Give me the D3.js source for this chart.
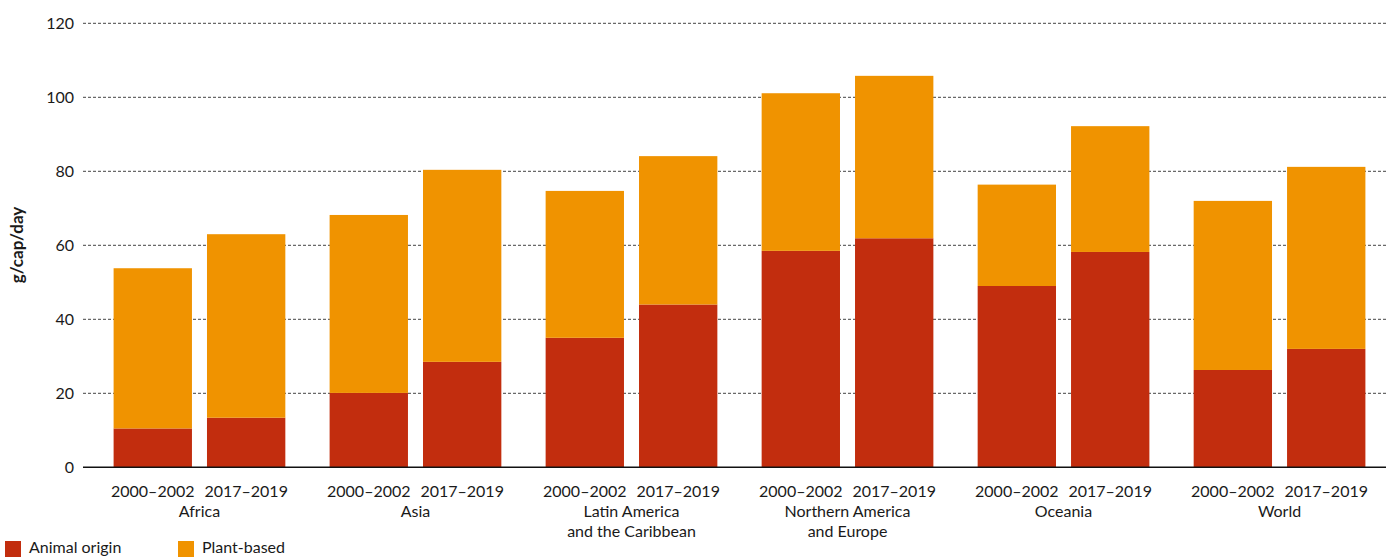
<!DOCTYPE html>
<html>
<head>
<meta charset="utf-8">
<script src="https://cdn.jsdelivr.net/npm/d3@7"></script>
<style>
  html, body { margin: 0; padding: 0; background: #fff; }
  svg { display: block; }
  text { font-family: "Lato", "Open Sans", sans-serif; fill: #1a1a1a; }
</style>
</head>
<body>
<svg id="chart" width="1386" height="557"></svg>
<script>
const regions = ["Africa", "Asia", "Latin America|and the Caribbean", "Northern America|and Europe", "Oceania", "World"];
const periods = ["2000–2002", "2017–2019"];
const animal = [[10.5, 13.4], [20.1, 28.5], [35.0, 44.0], [58.5, 61.9], [49.0, 58.2], [26.3, 32.0]];
const total  = [[53.8, 63.0], [68.2, 80.4], [74.7, 84.1], [101.1, 105.8], [76.4, 92.2], [72.0, 81.2]];
const yTicks = [0, 20, 40, 60, 80, 100, 120];
const seriesNames = ["Animal origin", "Plant-based"];
const colors = ["#C22D0E", "#F09300"];

const svg = d3.select("#chart");
const x0 = d3.scaleBand().domain(regions).range([92, 1387]).paddingInner(0.205).paddingOuter(0.1);
const x1 = d3.scaleBand().domain(periods).range([0, x0.bandwidth()]).paddingInner(0.161).paddingOuter(0);
const y = d3.scaleLinear().domain([0, 120]).range([467.3, 23.3]);

// gridlines
const grid = svg.append("g");
grid.selectAll("line").data(yTicks.filter(t => t > 0)).join("line")
  .attr("x1", 83).attr("x2", 1386)
  .attr("y1", d => y(d)).attr("y2", d => y(d))
  .attr("stroke", "#444").attr("stroke-width", 1).attr("stroke-dasharray", "3,2");

// y tick labels
svg.append("g").selectAll("text").data(yTicks).join("text")
  .attr("x", 74).attr("y", d => y(d)).attr("dy", "0.35em")
  .attr("text-anchor", "end").style("font-size", "16px")
  .text(d => d);

// y title
svg.append("text")
  .attr("transform", "translate(23,245) rotate(-90)")
  .attr("text-anchor", "middle").style("font-size", "17px").style("font-weight", "bold")
  .text("g/cap/day");

// bars
const data = [];
regions.forEach((r, i) => periods.forEach((p, j) => {
  data.push({ r, p, key: 0, y0: 0, y1: animal[i][j] });
  data.push({ r, p, key: 1, y0: animal[i][j], y1: total[i][j] });
}));
svg.append("g").selectAll("rect").data(data).join("rect")
  .attr("x", d => x0(d.r) + x1(d.p))
  .attr("width", x1.bandwidth())
  .attr("y", d => y(d.y1))
  .attr("height", d => y(d.y0) - y(d.y1))
  .attr("fill", d => colors[d.key]);

// x axis line
svg.append("line").attr("x1", 83).attr("x2", 1386).attr("y1", y(0)).attr("y2", y(0))
  .attr("stroke", "#111").attr("stroke-width", 1.5);

// period labels
const xl = svg.append("g");
regions.forEach(r => periods.forEach(p => {
  xl.append("text").attr("x", x0(r) + x1(p) + x1.bandwidth() / 2).attr("y", 497)
    .attr("text-anchor", "middle").style("font-size", "16px").text(p);
}));
// region labels
regions.forEach(r => {
  const lines = r.split("|");
  const t = xl.append("text").attr("text-anchor", "middle").style("font-size", "16px");
  lines.forEach((l, k) => t.append("tspan").attr("x", x0(r) + x0.bandwidth() / 2).attr("y", 517 + k * 20).text(l));
});

// legend
const lg = svg.append("g");
const lx = [5, 178];
seriesNames.forEach((s, i) => {
  lg.append("rect").attr("x", lx[i]).attr("y", 541).attr("width", 16).attr("height", 16).attr("fill", colors[i]);
  lg.append("text").attr("x", lx[i] + 24).attr("y", 553).style("font-size", "16px").text(s);
});
</script>
</body>
</html>
